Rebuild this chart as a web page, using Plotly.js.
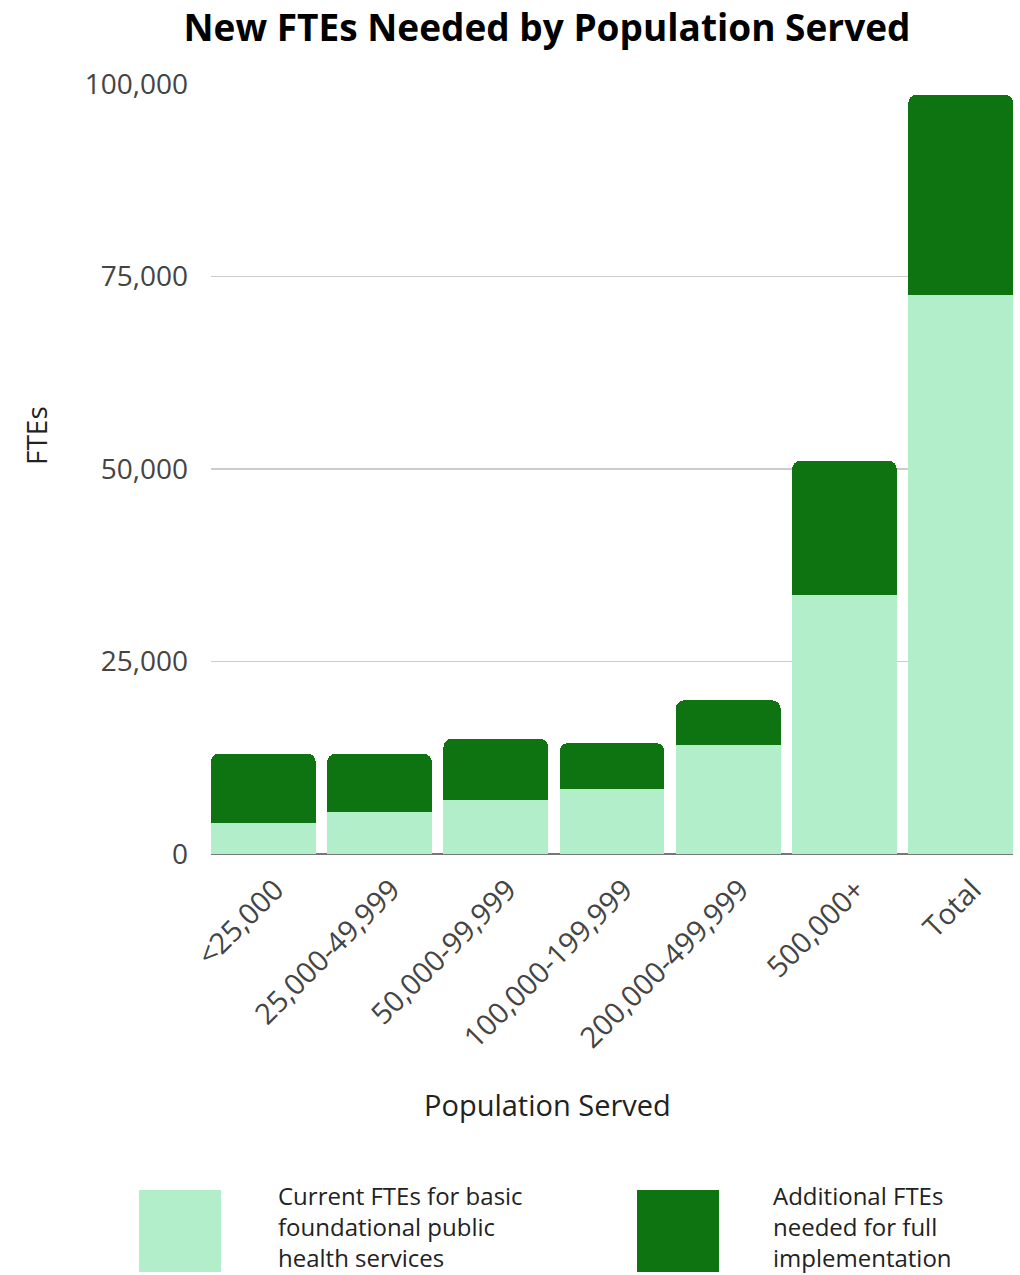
<!DOCTYPE html>
<html>
<head>
<meta charset="utf-8">
<script src="https://cdn.plot.ly/plotly-3.0.1.min.js"></script>
<style>
html,body{margin:0;padding:0;background:#fff;}
#chart{width:1020px;height:1275px;}
</style>
</head>
<body>
<div id="chart"></div>
<script>
// Data
const categories = ["<25,000", "25,000-49,999", "50,000-99,999", "100,000-199,999", "200,000-499,999", "500,000+", "Total"];
const currentFTEs = [4050, 5500, 6950, 8450, 14100, 33650, 72650];
const additionalFTEs = [9000, 7500, 8000, 5950, 5850, 17400, 25950];
const seriesNames = ["Current FTEs for basic<br>foundational public<br>health services", "Additional FTEs<br>needed for full<br>implementation"];
const yTickValues = [0, 25000, 50000, 75000, 100000];
const yTickLabels = ["0", "25,000", "50,000", "75,000", "100,000"];

const lightGreen = "#b2eeca";
const darkGreen = "#0e7411";
const FONT = "'Open Sans', 'Noto Sans', sans-serif";

// plot-area geometry (pixels)
const L = 211, R = 1013, T = 84, B = 854, W = 1020, H = 1275;
const px = x => (x - L) / (R - L);
const py = y => (B - y) / (B - T);

const traces = [
  {type: "bar", name: "Current FTEs", x: categories, y: currentFTEs,
   marker: {color: lightGreen, line: {width: 0}}, hoverinfo: "x+y"},
  {type: "bar", name: "Additional FTEs", x: categories, y: additionalFTEs,
   marker: {color: darkGreen, line: {width: 0}}, hoverinfo: "x+y"}
];

const layout = {
  width: W, height: H,
  paper_bgcolor: "#fff", plot_bgcolor: "#fff",
  barmode: "stack", bargap: 0.1, barcornerradius: 8,
  showlegend: false,
  margin: {l: L, r: W - R, t: T, b: H - B, pad: 0},
  font: {family: FONT, color: "#444"},
  title: {text: "<b>New FTEs Needed by Population Served</b>",
          font: {family: FONT, size: 37, color: "#000"},
          xref: "container", x: 547 / W, xanchor: "center",
          yref: "container", y: 1 - 28 / H, yanchor: "middle"},
  xaxis: {type: "category", range: [-0.45, 6.45], showgrid: false, zeroline: false,
          showline: false, ticks: "", tickangle: -45,
          tickfont: {family: FONT, size: 29, color: "#444"},
          ticklabelstandoff: 12, ticklabelshift: 12, fixedrange: true},
  yaxis: {range: [0, 100000], tickvals: yTickValues, ticktext: yTickLabels,
          showgrid: true, gridcolor: "#cccccc", gridwidth: 1.5,
          zeroline: true, zerolinecolor: "#777", zerolinewidth: 2,
          showline: false, ticks: "", ticklabelstandoff: 22,
          tickfont: {family: FONT, size: 28, color: "#444"}, fixedrange: true},
  shapes: [
    {type: "rect", xref: "paper", yref: "paper", x0: px(139), x1: px(221), y0: py(1272), y1: py(1190),
     fillcolor: lightGreen, line: {width: 0}},
    {type: "rect", xref: "paper", yref: "paper", x0: px(637), x1: px(719), y0: py(1272), y1: py(1190),
     fillcolor: darkGreen, line: {width: 0}}
  ],
  annotations: [
    {text: "FTEs", xref: "paper", yref: "paper", x: px(36), y: py(436), textangle: -90,
     showarrow: false, xanchor: "center", yanchor: "middle", font: {family: FONT, size: 28, color: "#222"}},
    {text: "Population Served", xref: "paper", yref: "paper", x: px(547), y: py(1104),
     showarrow: false, xanchor: "center", yanchor: "middle", font: {family: FONT, size: 29, color: "#222"}},
    {text: seriesNames[0], xref: "paper", yref: "paper", x: px(276), y: py(1226), align: "left",
     showarrow: false, xanchor: "left", yanchor: "middle", font: {family: FONT, size: 24, color: "#222"}},
    {text: seriesNames[1], xref: "paper", yref: "paper", x: px(771), y: py(1226), align: "left",
     showarrow: false, xanchor: "left", yanchor: "middle", font: {family: FONT, size: 24, color: "#222"}}
  ]
};

Plotly.newPlot("chart", traces, layout, {displayModeBar: false, staticPlot: true});
</script>
</body>
</html>
